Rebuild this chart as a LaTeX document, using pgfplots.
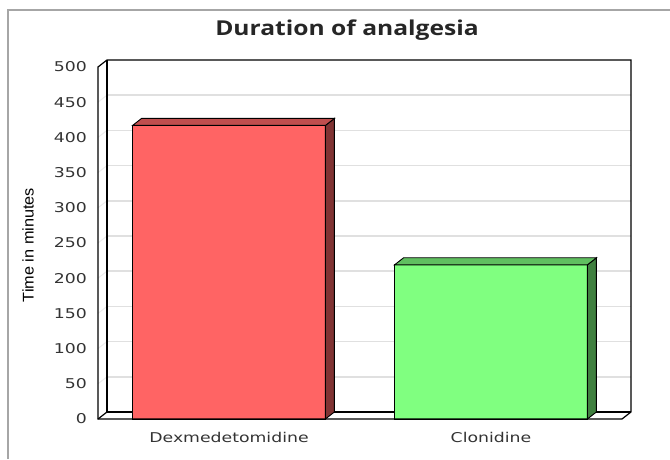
\documentclass[border=0pt]{standalone}
\usepackage{fontspec}
\setmainfont{DejaVu Sans}[FakeStretch=1.28]
\newfontfamily\titlefont{Open Sans}[FakeStretch=1.2]
\newfontfamily\ylabfont{Liberation Sans}[FakeStretch=1.05]
\usepackage{pgfplots}
\pgfplotsset{compat=1.18}
\definecolor{dexfront}{HTML}{FF6464}
\definecolor{dextop}{HTML}{C04E4E}
\definecolor{dexside}{HTML}{803333}
\definecolor{clofront}{HTML}{80FF80}
\definecolor{clotop}{HTML}{60BF60}
\definecolor{closide}{HTML}{408040}
\definecolor{ticktext}{HTML}{333333}
\definecolor{gridc}{HTML}{E0E0E0}
\begin{document}
\begin{tikzpicture}[x=1pt,y=1pt]
\path[use as bounding box] (0,0) rectangle (670,459);
% outer border
\draw[gray!70, line width=1.5pt] (8,0) -- (8,449) -- (670,449);
\begin{axis}[
  at={(98pt,40pt)}, anchor=south west,
  scale only axis, width=524pt, height=352pt,
  xmin=0, xmax=100, ymin=0, ymax=500,
  clip=false, no markers,
  axis line style={draw=none},
  major tick length=0pt,
  ytick={0,50,...,500},
  xtick={25,75},
  xticklabels={Dexmedetomidine,Clonidine},
  /pgf/number format/assume math mode=true,
  ticklabel style={font=\fontsize{13.5}{16}\selectfont, text=ticktext},
  yticklabel style={inner sep=0pt, anchor=east, xshift=-11pt},
  xticklabel style={inner sep=0pt, anchor=north, yshift=-13pt},
]
% back wall gridlines and left wall
\foreach \g in {50,100,...,450} {
  \edef\tmp{\noexpand\draw[gridc, line width=1.5pt] (axis cs:1.72,\g+10) -- (axis cs:101.72,\g+10);
  \noexpand\draw[gridc!60, line width=1pt] (axis cs:0,\g) -- (axis cs:1.72,\g+10);}
  \tmp
}
% frame (back)
\draw[black, line width=1.2pt] (axis cs:1.72,10) -- (axis cs:1.72,510);
\draw[black, line width=1.2pt] (axis cs:1.72,10) -- (axis cs:101.72,10);
\draw[black, line width=1.2pt] (axis cs:0,0) -- (axis cs:1.72,10);
% Dexmedetomidine
\addplot[ybar, bar width=36.8, fill=dexfront, draw=black, line width=0.9pt] coordinates {(25,417)};
\addplot[fill=dexside, draw=black, line width=0.9pt] coordinates {(43.4,0) (45.12,10) (45.12,427) (43.4,417)} -- cycle;
\addplot[fill=dextop, draw=black, line width=0.9pt] coordinates {(6.6,417) (8.32,427) (45.12,427) (43.4,417)} -- cycle;
% Clonidine
\addplot[ybar, bar width=36.8, fill=clofront, draw=black, line width=0.9pt] coordinates {(75,219)};
\addplot[fill=closide, draw=black, line width=0.9pt] coordinates {(93.4,0) (95.12,10) (95.12,229) (93.4,219)} -- cycle;
\addplot[fill=clotop, draw=black, line width=0.9pt] coordinates {(56.6,219) (58.32,229) (95.12,229) (93.4,219)} -- cycle;
% frame (front)
\draw[black, line width=1.2pt] (axis cs:0,0) -- (axis cs:0,500) -- (axis cs:1.72,510) -- (axis cs:101.72,510) -- (axis cs:101.72,10) -- (axis cs:100,0) -- cycle;
\end{axis}
\node[font=\titlefont\bfseries\fontsize{20.5}{24}\selectfont, text=black!85] at (347,429) {Duration of analgesia};
\node[font=\ylabfont\fontsize{15.5}{18}\selectfont, rotate=90, text=black] at (28,214) {Time in minutes};
\end{tikzpicture}
\end{document}
